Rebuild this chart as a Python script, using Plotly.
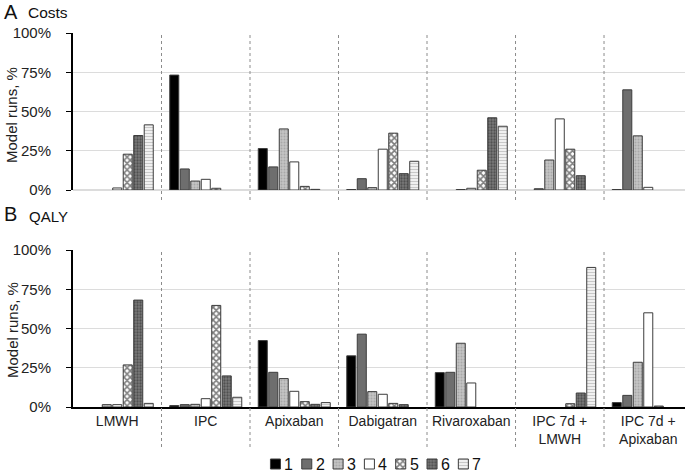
import plotly.graph_objects as go

categories = ["LMWH", "IPC", "Apixaban", "Dabigatran", "Rivaroxaban",
              "IPC 7d +<br>LMWH", "IPC 7d +<br>Apixaban"]
series_names = ["1", "2", "3", "4", "5", "6", "7"]

# Panel A: Costs (% of model runs for each rank)
costs_1 = [0, 73.2, 26.4, 0.3, 0, 0, 0.3]
costs_2 = [0, 13.4, 14.7, 7.2, 0, 0.8, 63.8]
costs_3 = [0, 5.7, 38.9, 1.5, 0.3, 19.1, 34.5]
costs_4 = [1.3, 6.8, 17.9, 26.0, 1.1, 45.3, 1.7]
costs_5 = [22.8, 1.1, 2.3, 36.2, 12.6, 26.0, 0]
costs_6 = [34.7, 0, 0.4, 10.4, 46.0, 9.1, 0]
costs_7 = [41.5, 0, 0, 18.3, 40.6, 0, 0]

# Panel B: QALY
qaly_1 = [0, 0.9, 42.3, 32.6, 21.9, 0, 2.8]
qaly_2 = [0, 1.5, 22.1, 46.4, 22.1, 0, 7.4]
qaly_3 = [1.5, 1.7, 18.1, 9.8, 40.6, 0, 28.5]
qaly_4 = [1.5, 5.3, 10.0, 8.1, 15.3, 0, 60.0]
qaly_5 = [26.8, 64.7, 3.4, 2.3, 0, 2.1, 0.6]
qaly_6 = [68.1, 19.8, 1.7, 1.5, 0, 8.9, 0]
qaly_7 = [2.3, 6.2, 2.8, 0, 0, 88.9, 0]

y_tick_vals = [0, 25, 50, 75, 100]
y_tick_text = ["0%", "25%", "50%", "75%", "100%"]

costs = [costs_1, costs_2, costs_3, costs_4, costs_5, costs_6, costs_7]
qaly = [qaly_1, qaly_2, qaly_3, qaly_4, qaly_5, qaly_6, qaly_7]

styles = [
    dict(color="#000000"),
    dict(color="#6e6e6e"),
    dict(color="#b4b4b4", pattern=dict(shape=".", fgcolor="#8c8c8c", bgcolor="#c4c4c4",
                                       size=3, solidity=0.35, fillmode="overlay")),
    dict(color="#ffffff"),
    dict(color="#ffffff", pattern=dict(shape="x", fgcolor="#000000", bgcolor="#ffffff",
                                       size=4.5, solidity=0.6, fillmode="overlay")),
    dict(color="#555555", pattern=dict(shape=".", fgcolor="#262626", bgcolor="#7a7a7a",
                                       size=3, solidity=0.45, fillmode="overlay")),
    dict(color="#e4e4e4", pattern=dict(shape="-", fgcolor="#a0a0a0", bgcolor="#f0f0f0",
                                       size=3, solidity=0.35, fillmode="overlay")),
]

W, H = 685, 473
FONT = "Arial"


def py(px):
    return 1 - px / H


def marker_for(i, values):
    st = styles[i]
    mk = dict(color=st["color"],
              line=dict(color="#3c3c3c", width=[0 if v == 0 else 1 for v in values]))
    if "pattern" in st:
        mk["pattern"] = st["pattern"]
    return mk


fig = go.Figure()
for i, name in enumerate(series_names):
    fig.add_trace(go.Bar(x=categories, y=costs[i], name=name, marker=marker_for(i, costs[i]),
                         xaxis="x", yaxis="y", showlegend=False))
    fig.add_trace(go.Bar(x=categories, y=qaly[i], name=name, marker=marker_for(i, qaly[i]),
                         xaxis="x2", yaxis="y2", showlegend=False))

# Custom legend: one swatch per series in a small auxiliary axis
for i, name in enumerate(series_names):
    fig.add_trace(go.Bar(x=[i], y=[1], name=name, marker=marker_for(i, [1]),
                         width=0.32, offset=-0.16, xaxis="x3", yaxis="y3",
                         showlegend=False, hoverinfo="skip"))

x_dom = [73 / W, 1.0]
xr = [-0.5, 6.415]
yaxis_common = dict(range=[0, 100], tickmode="array", tickvals=y_tick_vals,
                    ticktext=y_tick_text, showline=True, linecolor="#000000", linewidth=2,
                    ticks="outside", ticklen=5, tickcolor="#000000", tickwidth=1,
                    ticklabelstandoff=12,
                    showgrid=True, gridcolor="#dcdcdc", gridwidth=1.2, automargin=False,
                    tickfont=dict(family=FONT, size=15, color="#222222"))
fig.update_layout(
    width=W, height=H,
    margin=dict(l=0, r=0, t=0, b=0, autoexpand=False),
    paper_bgcolor="white", plot_bgcolor="white",
    barmode="group", bargap=0.17, bargroupgap=0.14,
    showlegend=False,
    font=dict(family=FONT, color="#222222"),
    xaxis=dict(domain=x_dom, range=xr, showticklabels=False, ticks="",
               showline=False, showgrid=False, zeroline=False, automargin=False,
               anchor="y"),
    xaxis2=dict(domain=x_dom, range=xr, showticklabels=True, ticks="",
                showline=True, linecolor="#000000", linewidth=2, showgrid=False,
                automargin=False, anchor="y2", ticklabeloverflow="allow",
                tickfont=dict(family=FONT, size=14, color="#222222")),
    yaxis=dict(domain=[py(190), py(33)], anchor="x",
               zeroline=True, zerolinecolor="#dcdcdc", zerolinewidth=1.5, **yaxis_common),
    yaxis2=dict(domain=[py(407), py(250)], anchor="x2", zeroline=False, **yaxis_common),
    xaxis3=dict(domain=[259.8 / W, 479 / W], range=[-0.5, 6.5], visible=False,
                anchor="y3", fixedrange=True),
    yaxis3=dict(domain=[py(470), py(458)], range=[-0.1, 1.1], visible=False,
                anchor="x3", fixedrange=True),
)

# Group separators (dotted vertical lines between categories)
shapes = []
for k in range(len(categories) - 1):
    xv = k + 0.5
    shapes.append(dict(type="line", xref="x", yref="paper", x0=xv, x1=xv,
                       y0=py(200), y1=py(33),
                       line=dict(color="#8c8c8c", width=1, dash="dot")))
    shapes.append(dict(type="line", xref="x2", yref="paper", x0=xv, x1=xv,
                       y0=py(447), y1=py(250),
                       line=dict(color="#8c8c8c", width=1, dash="dot")))
fig.update_layout(shapes=shapes)

annotations = [
    dict(text="A", x=2 / W, y=py(12), xref="paper", yref="paper", xanchor="left",
         yanchor="middle", showarrow=False, font=dict(family=FONT, size=20, color="#111111")),
    dict(text="Costs", x=26 / W, y=py(13), xref="paper", yref="paper", xanchor="left",
         yanchor="middle", showarrow=False, font=dict(family=FONT, size=15.5, color="#111111")),
    dict(text="B", x=2 / W, y=py(214), xref="paper", yref="paper", xanchor="left",
         yanchor="middle", showarrow=False, font=dict(family=FONT, size=20, color="#111111")),
    dict(text="QALY", x=27 / W, y=py(216), xref="paper", yref="paper", xanchor="left",
         yanchor="middle", showarrow=False, font=dict(family=FONT, size=15, color="#111111")),
    dict(text="Model runs, %", x=12 / W, y=py(115), xref="paper", yref="paper",
         xanchor="center", yanchor="middle", textangle=-90, showarrow=False,
         font=dict(family=FONT, size=15, color="#222222")),
    dict(text="Model runs, %", x=12 / W, y=py(330), xref="paper", yref="paper",
         xanchor="center", yanchor="middle", textangle=-90, showarrow=False,
         font=dict(family=FONT, size=15, color="#222222")),
]
for i, name in enumerate(series_names):
    annotations.append(dict(text=name, x=i + 0.16, y=0.5, xref="x3", yref="y3",
                            xanchor="left", yanchor="middle", xshift=2, showarrow=False,
                            font=dict(family=FONT, size=16, color="#111111")))
fig.update_layout(annotations=annotations)

fig.write_html("out.html", config={"displayModeBar": False},
               post_script="document.body.style.margin='0';"
                           "document.body.style.padding='0';"
                           "document.body.style.overflow='hidden';")
